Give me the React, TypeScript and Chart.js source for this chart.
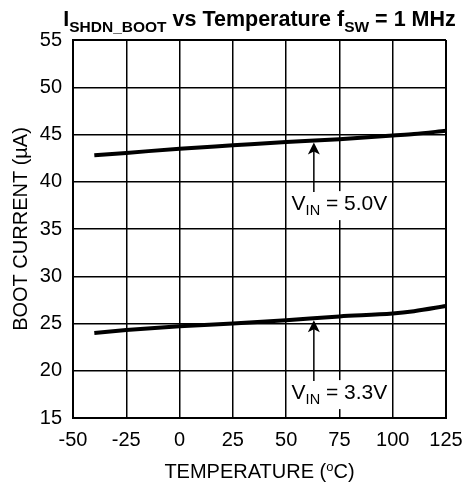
import React, { useEffect, useRef } from "react";
import { Chart, registerables } from "chart.js";

Chart.register(...registerables);

const temps = [-40, -25, 0, 25, 50, 75, 100, 110, 125];
const boot5V = [42.8, 43.05, 43.5, 43.85, 44.2, 44.5, 44.9, 45.05, 45.4];
const boot33V = [24.0, 24.3, 24.7, 25.0, 25.35, 25.75, 26.05, 26.3, 26.85];
const seriesVoltages = ["5.0V", "3.3V"];
const xMin = -50, xMax = 125, xStep = 25;
const yMin = 15, yMax = 55, yStep = 5;

const FONT = '"Liberation Sans", Arial, sans-serif';

function interp(xs: number[], ys: number[], v: number) {
  for (let i = 0; i < xs.length - 1; i++) {
    if (v >= xs[i] && v <= xs[i + 1]) {
      const t = (v - xs[i]) / (xs[i + 1] - xs[i]);
      return ys[i] + t * (ys[i + 1] - ys[i]);
    }
  }
  return ys[ys.length - 1];
}

const annotations = [
  { label: seriesVoltages[0], series: boot5V, arrowX: 63, textX: 75, textY: 37.0 },
  { label: seriesVoltages[1], series: boot33V, arrowX: 63, textX: 75, textY: 17.0 },
];

const textPlugin = {
  id: "customText",
  afterDatasetsDraw(chart: any) {
    const { ctx, scales } = chart;
    const x = scales.x, y = scales.y;
    ctx.save();
    annotations.forEach((a) => {
      const cx = x.getPixelForValue(a.textX);
      const base = y.getPixelForValue(a.textY);
      ctx.font = `21px ${FONT}`;
      const wV = ctx.measureText("V").width;
      const rest = " = " + a.label;
      const wRest = ctx.measureText(rest).width;
      ctx.font = `14.5px ${FONT}`;
      const wIN = ctx.measureText("IN").width;
      const total = wV + wIN + wRest;
      const left = cx - total / 2;
      ctx.fillStyle = "#fff";
      ctx.fillRect(left - 3, base - 19, total + 6, 29);
      ctx.fillStyle = "#000";
      ctx.textBaseline = "alphabetic";
      ctx.textAlign = "left";
      ctx.font = `21px ${FONT}`;
      ctx.fillText("V", left, base);
      ctx.font = `14.5px ${FONT}`;
      ctx.fillText("IN", left + wV, base + 5);
      ctx.font = `21px ${FONT}`;
      ctx.fillText(rest, left + wV + wIN, base);
      // arrow
      const ax = x.getPixelForValue(a.arrowX);
      const tip = y.getPixelForValue(interp(temps, a.series, a.arrowX)) + 2;
      const bottom = base - 18;
      ctx.strokeStyle = "#000";
      ctx.lineWidth = 1.5;
      ctx.beginPath();
      ctx.moveTo(ax, bottom);
      ctx.lineTo(ax, tip + 8);
      ctx.stroke();
      ctx.beginPath();
      ctx.moveTo(ax, tip);
      ctx.lineTo(ax - 6, tip + 12);
      ctx.lineTo(ax, tip + 9);
      ctx.lineTo(ax + 6, tip + 12);
      ctx.closePath();
      ctx.fill();
    });
    ctx.restore();
  },
  afterDraw(chart: any) {
    const { ctx, chartArea } = chart;
    const cxa = (chartArea.left + chartArea.right) / 2;
    const cya = (chartArea.top + chartArea.bottom) / 2;
    ctx.save();
    ctx.fillStyle = "#000";
    ctx.textBaseline = "alphabetic";
    ctx.textAlign = "left";
    // Title with subscripts
    const parts: [string, boolean][] = [
      ["I", false],
      ["SHDN_BOOT", true],
      [" vs Temperature f", false],
      ["SW", true],
      [" = 1 MHz", false],
    ];
    const mainF = `bold 21.5px ${FONT}`;
    const subF = `bold 15.5px ${FONT}`;
    let tw = 0;
    parts.forEach(([t, s]) => {
      ctx.font = s ? subF : mainF;
      tw += ctx.measureText(t).width;
    });
    let px = cxa - tw / 2;
    const tb = 26;
    parts.forEach(([t, s]) => {
      ctx.font = s ? subF : mainF;
      ctx.fillText(t, px, s ? tb + 6 : tb);
      px += ctx.measureText(t).width;
    });
    // X axis title with superscript o
    const xf = `20px ${FONT}`;
    const sf = `13px ${FONT}`;
    ctx.font = xf;
    const p1 = "TEMPERATURE (";
    const p3 = "C)";
    const w1 = ctx.measureText(p1).width;
    const w3 = ctx.measureText(p3).width;
    ctx.font = sf;
    const w2 = ctx.measureText("o").width;
    let sx = cxa - (w1 + w2 + w3) / 2;
    const xb = 478;
    ctx.font = xf;
    ctx.fillText(p1, sx, xb);
    sx += w1;
    ctx.font = sf;
    ctx.fillText("o", sx, xb - 7);
    sx += w2;
    ctx.font = xf;
    ctx.fillText(p3, sx, xb);
    // Y axis title
    ctx.translate(27, cya);
    ctx.rotate(-Math.PI / 2);
    ctx.textAlign = "center";
    ctx.font = `20px ${FONT}`;
    ctx.fillText("BOOT CURRENT (\u00B5A)", 0, 0);
    ctx.restore();
  },
};

export default function App() {
  const ref = useRef<HTMLCanvasElement>(null);
  useEffect(() => {
    if (!ref.current) return;
    const mk = (ys: number[]) => temps.map((t, i) => ({ x: t, y: ys[i] }));
    const edgeWidth = (c: any) => {
      const n = c.scale.ticks.length;
      return c.index === 0 || c.index === n - 1 ? 2 : 1.5;
    };
    const chart = new Chart(ref.current, {
      type: "line",
      data: {
        datasets: [
          {
            label: seriesVoltages[0],
            data: mk(boot5V),
            borderColor: "#000",
            borderWidth: 4,
            pointRadius: 0,
            cubicInterpolationMode: "monotone",
            fill: false,
          },
          {
            label: seriesVoltages[1],
            data: mk(boot33V),
            borderColor: "#000",
            borderWidth: 4,
            pointRadius: 0,
            cubicInterpolationMode: "monotone",
            fill: false,
          },
        ],
      },
      options: {
        animation: false,
        responsive: true,
        maintainAspectRatio: false,
        devicePixelRatio: 1,
        layout: { padding: { top: 40, right: 18, left: 0, bottom: 0 } },
        plugins: { legend: { display: false }, tooltip: { enabled: false }, title: { display: false } },
        scales: {
          x: {
            type: "linear",
            min: xMin,
            max: xMax,
            afterFit: (s: any) => {
              s.height = 67;
              s.paddingLeft = 0;
              s.paddingRight = 0;
            },
            ticks: { stepSize: xStep, color: "#000", font: { family: FONT, size: 20 }, padding: 10, maxRotation: 0, autoSkip: false },
            grid: { color: "#000", lineWidth: edgeWidth, drawTicks: false },
            border: { display: true, color: "#000", width: 2 },
          },
          y: {
            type: "linear",
            min: yMin,
            max: yMax,
            afterFit: (s: any) => {
              s.width = 73;
              s.paddingTop = 0;
              s.paddingBottom = 0;
            },
            ticks: { stepSize: yStep, color: "#000", font: { family: FONT, size: 20 }, padding: 11 },
            grid: { color: "#000", lineWidth: edgeWidth, drawTicks: false },
            border: { display: true, color: "#000", width: 2 },
          },
        },
      },
      plugins: [textPlugin],
    });
    return () => chart.destroy();
  }, []);
  return (
    <div style={{ position: "absolute", left: 0, top: 0, width: 464, height: 485, background: "#fff" }}>
      <canvas ref={ref} />
    </div>
  );
}
